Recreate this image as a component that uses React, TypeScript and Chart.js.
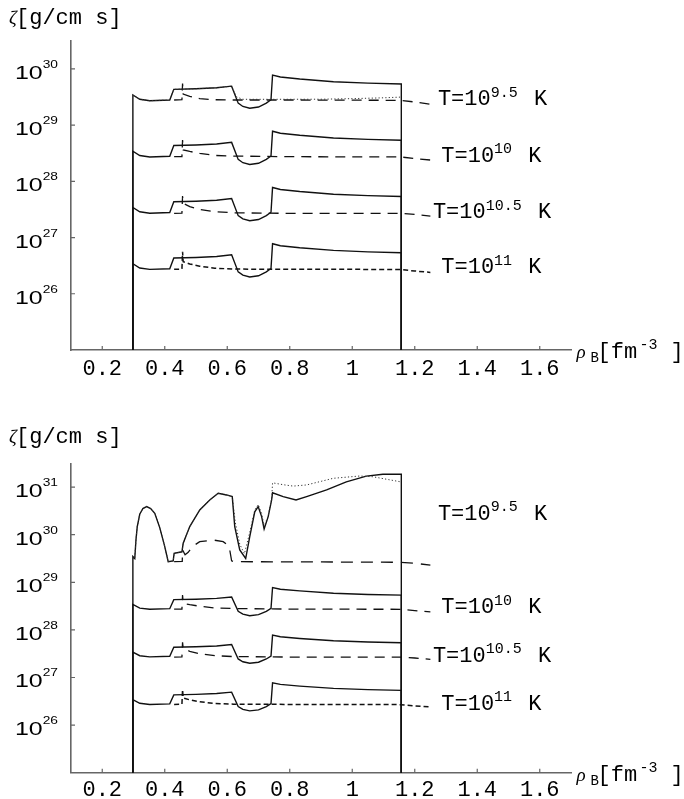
import React, { useEffect, useRef } from 'react';
import { Chart, registerables } from 'chart.js';

Chart.register(...registerables);

// ---------- axis ticks ----------
const rhoTicks = [0.2, 0.4, 0.6, 0.8, 1.0, 1.2, 1.4, 1.6];
const zetaTicksTop = [1e26, 1e27, 1e28, 1e29, 1e30];
const zetaTicksBottom = [1e26, 1e27, 1e28, 1e29, 1e30, 1e31];

// ---------- solid curves (shared density grid) ----------
const solidRho = [0.298, 0.298, 0.32, 0.352, 0.416, 0.429, 0.5, 0.566, 0.614, 0.635, 0.65, 0.672, 0.7, 0.725, 0.74, 0.745, 0.77, 0.832, 0.94, 1.05, 1.157, 1.157];
const solidT95 = [1e24, 3.42e29, 2.87e29, 2.71e29, 2.79e29, 4.32e29, 4.42e29, 4.6e29, 4.92e29, 2.45e29, 2.14e29, 1.99e29, 2.09e29, 2.45e29, 2.82e29, 7.76e29, 7.16e29, 6.59e29, 5.9e29, 5.56e29, 5.37e29, 1e24];
const solidT10 = [1e24, 3.42e28, 2.87e28, 2.71e28, 2.79e28, 4.32e28, 4.42e28, 4.6e28, 4.92e28, 2.45e28, 2.14e28, 1.99e28, 2.09e28, 2.45e28, 2.82e28, 7.76e28, 7.16e28, 6.59e28, 5.9e28, 5.56e28, 5.37e28, 1e24];
const solidT105 = [1e24, 3.42e27, 2.87e27, 2.71e27, 2.79e27, 4.32e27, 4.42e27, 4.6e27, 4.92e27, 2.45e27, 2.14e27, 1.99e27, 2.09e27, 2.45e27, 2.82e27, 7.76e27, 7.16e27, 6.59e27, 5.9e27, 5.56e27, 5.37e27, 1e24];
const solidT11 = [1e24, 3.42e26, 2.87e26, 2.71e26, 2.79e26, 4.32e26, 4.42e26, 4.6e26, 4.92e26, 2.45e26, 2.14e26, 1.99e26, 2.09e26, 2.45e26, 2.82e26, 7.76e26, 7.16e26, 6.59e26, 5.9e26, 5.56e26, 5.37e26, 1e24];

// ---------- dashed curves ----------
const dashedRho = [0.43, 0.455, 0.457, 0.459, 0.48, 0.512, 0.56, 0.62, 0.8, 1.0, 1.155, 1.2, 1.25];
const dashedT95 = [2.79e29, 2.82e29, 5.5e29, 3.55e29, 3.24e29, 2.95e29, 2.82e29, 2.79e29, 2.79e29, 2.77e29, 2.75e29, 2.57e29, 2.34e29];
const dashedT10 = [2.74e28, 2.75e28, 5.42e28, 3.6e28, 3.39e28, 3.14e28, 2.88e28, 2.81e28, 2.74e28, 2.72e28, 2.71e28, 2.54e28, 2.39e28];
const dashedT105 = [2.69e27, 2.72e27, 5.47e27, 4.06e27, 3.55e27, 3.16e27, 2.88e27, 2.75e27, 2.69e27, 2.69e27, 2.69e27, 2.57e27, 2.4e27];
const dashedT11 = [2.72e26, 2.75e26, 5.6e26, 3.72e26, 3.39e26, 3.09e26, 2.85e26, 2.75e26, 2.72e26, 2.72e26, 2.69e26, 2.54e26, 2.4e26];

// ---------- dotted curve, upper panel ----------
const dottedRhoTop = [0.298, 0.32, 0.352, 0.416, 0.429, 0.5, 0.566, 0.614, 0.63, 0.65, 0.75, 0.9, 1.0, 1.1, 1.155];
const dottedT95Top = [3.42e29, 2.87e29, 2.71e29, 2.79e29, 4.32e29, 4.42e29, 4.6e29, 4.92e29, 3.16e29, 2.87e29, 2.87e29, 2.88e29, 2.95e29, 3.05e29, 3.14e29];

// ---------- lower panel, T = 10^9.5 ----------
const solidRhoB = [0.298, 0.298, 0.304, 0.308, 0.312, 0.32, 0.33, 0.342, 0.355, 0.368, 0.384, 0.4, 0.411, 0.427, 0.43, 0.455, 0.459, 0.48, 0.512, 0.544, 0.571, 0.598, 0.616, 0.624, 0.64, 0.659, 0.672, 0.688, 0.699, 0.71, 0.718, 0.731, 0.742, 0.745, 0.779, 0.82, 0.854, 0.918, 0.981, 1.045, 1.098, 1.157, 1.157];
const solidT95B = [1e24, 3.47e29, 3.16e29, 7.94e29, 1.48e30, 2.69e30, 3.55e30, 3.89e30, 3.55e30, 2.82e30, 1.41e30, 5.62e29, 2.71e29, 2.82e29, 4.07e29, 4.37e29, 6.61e29, 1.48e30, 3.31e30, 5.37e30, 7.41e30, 6.84e30, 6.31e30, 1.48e30, 4.79e29, 3.16e29, 9.12e29, 3.02e30, 3.89e30, 2.4e30, 1.32e30, 2.4e30, 5.37e30, 7.59e30, 6.31e30, 5.37e30, 6.31e30, 8.71e30, 1.29e31, 1.7e31, 1.86e31, 1.86e31, 1e24];
const dottedRhoB = [0.298, 0.304, 0.308, 0.312, 0.32, 0.33, 0.342, 0.355, 0.368, 0.384, 0.4, 0.411, 0.427, 0.43, 0.455, 0.459, 0.48, 0.512, 0.544, 0.571, 0.598, 0.616, 0.626, 0.64, 0.655, 0.672, 0.688, 0.699, 0.71, 0.718, 0.731, 0.742, 0.745, 0.78, 0.811, 0.854, 0.939, 1.024, 1.066, 1.155];
const dottedT95B = [3.47e29, 3.16e29, 7.94e29, 1.48e30, 2.69e30, 3.55e30, 3.89e30, 3.55e30, 2.82e30, 1.41e30, 5.62e29, 2.71e29, 2.82e29, 4.07e29, 4.37e29, 6.61e29, 1.48e30, 3.31e30, 5.37e30, 7.41e30, 6.84e30, 6.31e30, 1.78e30, 6.31e29, 3.98e29, 1.12e30, 3.31e30, 4.27e30, 2.82e30, 1.48e30, 2.51e30, 5.62e30, 1.23e31, 1.12e31, 1.05e31, 1.11e31, 1.53e31, 1.71e31, 1.65e31, 1.29e31];
const dashedRhoB = [0.43, 0.456, 0.457, 0.465, 0.475, 0.49, 0.512, 0.555, 0.587, 0.6, 0.608, 0.614, 0.62, 0.8, 1.0, 1.155, 1.2, 1.25];
const dashedT95B = [2.71e29, 2.75e29, 4.79e29, 3.8e29, 4.27e29, 5.75e29, 7.13e29, 7.74e29, 7.13e29, 6.17e29, 4.79e29, 2.82e29, 2.71e29, 2.69e29, 2.66e29, 2.63e29, 2.51e29, 2.29e29];

// ---------- curve labels ----------
const tempExponents = ['9.5', '10', '10.5', '11'];
const labelRho = [1.274, 1.285, 1.258, 1.285];
const labelZetaTop = [2.27e29, 2.23e28, 2.2e27, 2.31e26];
const labelZetaBottom = [2.04e30, 2.26e28, 2.15e27, 2.08e26];

const AXIS = '#666666';
const MONO = '"Liberation Mono", "DejaVu Sans Mono", monospace';

function pts(xs: number[], ys: number[]) {
  return xs.map((x, i) => ({ x, y: ys[i] }));
}

function line(xs: number[], ys: number[], kind: 'solid' | 'dash' | 'short' | 'dot' | 'longdash') {
  const base: any = {
    data: pts(xs, ys),
    showLine: true,
    pointRadius: 0,
    pointHoverRadius: 0,
    tension: 0,
    fill: false,
    borderColor: '#111111',
    borderWidth: 1.4,
    borderDash: [] as number[],
  };
  if (kind === 'dash') { base.borderDash = [10, 7]; base.borderWidth = 1.3; }
  if (kind === 'longdash') { base.borderDash = [12, 8]; base.borderWidth = 1.3; }
  if (kind === 'short') { base.borderDash = [5, 3]; base.borderWidth = 1.5; }
  if (kind === 'dot') { base.borderDash = [1.2, 2.2]; base.borderWidth = 1; base.borderColor = '#333333'; }
  return base;
}

type Part = { t: string; font: string; dy?: number; dx?: number; sx?: number };
function rich(ctx: CanvasRenderingContext2D, x: number, y: number, parts: Part[]) {
  let cx = x;
  for (const p of parts) {
    ctx.font = p.font;
    const sx = p.sx ?? 1;
    cx += p.dx ?? 0;
    ctx.save();
    ctx.translate(cx, y + (p.dy ?? 0));
    ctx.scale(sx, 1);
    ctx.fillText(p.t, 0, 0);
    ctx.restore();
    cx += ctx.measureText(p.t).width * sx;
  }
  return cx;
}

function decor(yTicks: number[], labelZeta: number[], titleBaseline: number) {
  return {
    id: 'decor',
    afterDraw(chart: any) {
      const ctx: CanvasRenderingContext2D = chart.ctx;
      const xs = chart.scales.x;
      const ys = chart.scales.y;
      const a = chart.chartArea;
      ctx.save();
      // inward tick marks
      ctx.strokeStyle = AXIS;
      ctx.lineWidth = 1.2;
      ctx.beginPath();
      for (const v of rhoTicks) {
        const px = xs.getPixelForValue(v);
        ctx.moveTo(px, a.bottom);
        ctx.lineTo(px, a.bottom - 4);
      }
      for (const v of yTicks) {
        const py = ys.getPixelForValue(v);
        ctx.moveTo(a.left, py);
        ctx.lineTo(a.left + 4, py);
      }
      ctx.stroke();

      ctx.fillStyle = '#000';
      ctx.textAlign = 'left';
      ctx.textBaseline = 'alphabetic';
      // y tick labels 10^n
      const MAIN = '18.5px "Liberation Sans", Arial, sans-serif';
      const SUP = '11px "Liberation Sans", Arial, sans-serif';
      for (const v of yTicks) {
        const py = ys.getPixelForValue(v);
        const e = String(Math.round(Math.log10(v)));
        ctx.font = MAIN;
        const w1 = ctx.measureText('10').width * 1.35;
        ctx.font = SUP;
        const w2 = ctx.measureText(e).width * 1.25;
        rich(ctx, a.left - 13 - w1 - w2, py + 10, [
          { t: '10', font: MAIN, sx: 1.35 },
          { t: e, font: SUP, sx: 1.25, dy: -11 },
        ]);
      }
      // y axis title
      rich(ctx, 9, titleBaseline, [{ t: 'ζ', font: 'italic 19px "Liberation Serif", serif' }]);
      rich(ctx, 16, titleBaseline, [{ t: '[g/cm s]', font: `22px ${MONO}` }]);
      // x axis title
      const xb = a.bottom + 8;
      const r = a.right;
      rich(ctx, r + 5.6, xb, [{ t: 'ρ', font: 'italic 19px "Liberation Serif", serif' }]);
      rich(ctx, r + 19.6, xb + 4, [{ t: 'B', font: `14px ${MONO}` }]);
      rich(ctx, r + 26.6, xb, [{ t: '[fm', font: `22px ${MONO}` }]);
      rich(ctx, r + 68.6, xb - 9, [{ t: '-3', font: `15px ${MONO}` }]);
      rich(ctx, r + 99.6, xb, [{ t: ']', font: `22px ${MONO}` }]);
      // temperature labels
      for (let i = 0; i < tempExponents.length; i++) {
        const px = xs.getPixelForValue(labelRho[i]);
        const py = ys.getPixelForValue(labelZeta[i]);
        rich(ctx, px, py, [
          { t: 'T=10', font: `22px ${MONO}` },
          { t: tempExponents[i], font: `15px ${MONO}`, dy: -8.5 },
          { t: ' K', font: `22px ${MONO}`, dx: 3 },
        ]);
      }
      ctx.restore();
    },
  };
}

type PanelProps = {
  top: number;
  height: number;
  padTop: number;
  xScaleHeight: number;
  yMax: number;
  yTicks: number[];
  labelZeta: number[];
  titleBaseline: number;
  tickPad: number;
  datasets: any[];
};

function Panel(p: PanelProps) {
  const ref = useRef<HTMLCanvasElement>(null);
  useEffect(() => {
    if (!ref.current) return;
    const chart = new Chart(ref.current, {
      type: 'scatter',
      data: { datasets: p.datasets },
      options: {
        animation: false,
        responsive: false,
        events: [],
        layout: { padding: { left: 0, right: 113, top: p.padTop, bottom: 0 } },
        plugins: { legend: { display: false }, tooltip: { enabled: false } },
        scales: {
          x: {
            type: 'linear',
            min: 0.1,
            max: 1.7,
            grid: { display: false, drawTicks: false },
            border: { display: true, color: AXIS, width: 1.6 },
            afterBuildTicks: (s: any) => { s.ticks = rhoTicks.map((v) => ({ value: v })); },
            afterFit: (s: any) => { s.height = p.xScaleHeight; },
            ticks: {
              autoSkip: false,
              maxRotation: 0,
              minRotation: 0,
              padding: p.tickPad,
              color: '#000',
              font: { family: MONO, size: 22 },
              callback: (v: any) => {
                const n = Math.round(Number(v) * 10) / 10;
                return n === 1 ? '1' : n.toFixed(1);
              },
            },
          },
          y: {
            type: 'logarithmic',
            min: 1e25,
            max: p.yMax,
            grid: { display: false, drawTicks: false },
            border: { display: true, color: AXIS, width: 1.6 },
            afterBuildTicks: (s: any) => { s.ticks = p.yTicks.map((v) => ({ value: v })); },
            afterFit: (s: any) => { s.width = 71; },
            ticks: { display: false },
          },
        },
      } as any,
      plugins: [decor(p.yTicks, p.labelZeta, p.titleBaseline)],
    });
    return () => chart.destroy();
  }, []);
  return (
    <canvas
      ref={ref}
      width={684}
      height={p.height}
      style={{ position: 'absolute', left: 0, top: p.top, width: 684, height: p.height, display: 'block' }}
    />
  );
}

export default function App() {
  const lowerThree = [
    line(solidRho, solidT10, 'solid'),
    line(solidRho, solidT105, 'solid'),
    line(solidRho, solidT11, 'solid'),
    line(dashedRho, dashedT10, 'dash'),
    line(dashedRho, dashedT105, 'dash'),
    line(dashedRho, dashedT11, 'short'),
  ];
  const topSets = [
    line(dottedRhoTop, dottedT95Top, 'dot'),
    line(solidRho, solidT95, 'solid'),
    line(dashedRho, dashedT95, 'dash'),
    ...lowerThree,
  ];
  const bottomSets = [
    line(dottedRhoB, dottedT95B, 'dot'),
    line(solidRhoB, solidT95B, 'solid'),
    line(dashedRhoB, dashedT95B, 'longdash'),
    line(solidRho, solidT10, 'solid'),
    line(solidRho, solidT105, 'solid'),
    line(solidRho, solidT11, 'solid'),
    line(dashedRho, dashedT10, 'dash'),
    line(dashedRho, dashedT105, 'dash'),
    line(dashedRho, dashedT11, 'short'),
  ];
  return (
    <div style={{ position: 'absolute', left: 0, top: 0, width: 684, height: 799, background: '#fff', overflow: 'hidden' }}>
      <Panel
        top={0}
        height={400}
        padTop={40.7}
        xScaleHeight={50}
        yMax={3.162e30}
        yTicks={zetaTicksTop}
        labelZeta={labelZetaTop}
        titleBaseline={23.5}
        tickPad={6}
        datasets={topSets}
      />
      <Panel
        top={400}
        height={399}
        padTop={63.3}
        xScaleHeight={26.3}
        yMax={3.162e31}
        yTicks={zetaTicksBottom}
        labelZeta={labelZetaBottom}
        titleBaseline={43.3}
        tickPad={4}
        datasets={bottomSets}
      />
    </div>
  );
}
